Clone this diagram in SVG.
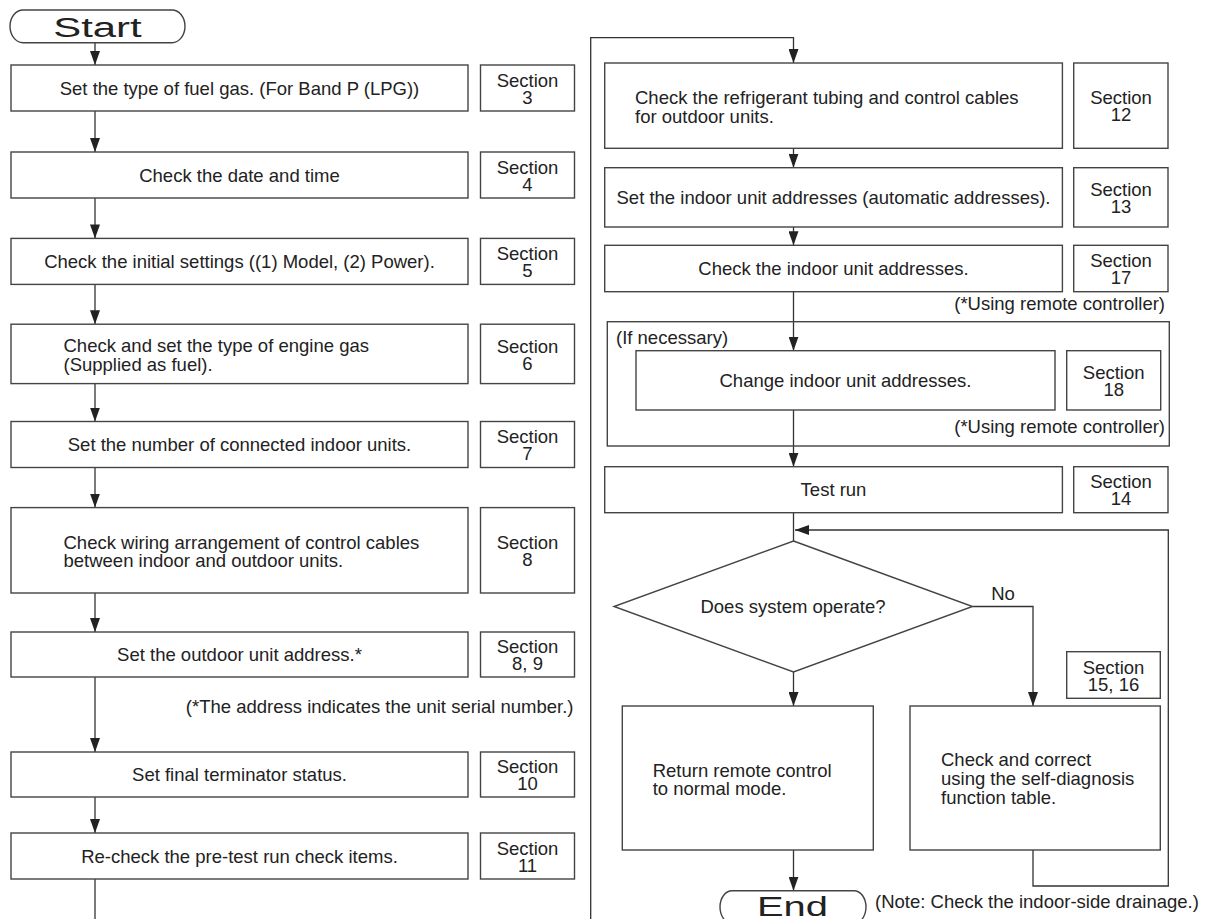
<svg xmlns="http://www.w3.org/2000/svg" width="1205" height="919" viewBox="0 0 1205 919">
<defs>
<marker id="ah" viewBox="0 0 14 10" refX="14" refY="5" markerWidth="14" markerHeight="10" markerUnits="userSpaceOnUse" orient="auto"><path d="M0,0 L14,5 L0,10 z" fill="#222"/></marker>
<style>
.b{fill:#fff;stroke:#444;stroke-width:1.4}
.g{fill:none;stroke:#444;stroke-width:1.4}
.c{fill:none;stroke:#333;stroke-width:1.3}
.a{marker-end:url(#ah)}
text{font-family:"Liberation Sans",Arial,sans-serif;font-size:18.5px;fill:#222}
.m{text-anchor:middle}
.e{text-anchor:end}
.t{font-size:27px}
</style>
</defs>
<rect width="1205" height="919" fill="#fff"/>
<g id="connectors">
<path class="c a" d="M95,42.7 V65"/>
<path class="c a" d="M95,111 V152"/>
<path class="c a" d="M95,198 V238.4"/>
<path class="c a" d="M95,284.4 V324.2"/>
<path class="c a" d="M95,383.6 V421.5"/>
<path class="c a" d="M95,467.5 V507.6"/>
<path class="c a" d="M95,593 V632"/>
<path class="c a" d="M95,677 V752"/>
<path class="c a" d="M95,797 V833"/>
<path class="c" d="M95,879 V919"/>
<path class="c a" d="M590.7,919 V37.7 H793.5 V63"/>
<path class="c a" d="M793.5,148.3 V167.7"/>
<path class="c a" d="M793.5,227 V245.3"/>
<path class="c a" d="M793.5,291.7 V350.7"/>
<path class="c a" d="M793.5,410 V466.7"/>
<path class="c" d="M793.5,512.7 V541"/>
<path class="c a" d="M1033,850 V886 H1168.3 V530 H795"/>
<path class="c a" d="M972.5,606.5 H1033 V706"/>
<path class="c a" d="M793.5,672 V706"/>
<path class="c a" d="M793.5,850 V890.7"/>
</g>
<g id="start"><path class="b" d="M23,10 H172 A13,16.35 0 0 1 172,42.7 H23 A13,16.35 0 0 1 23,10 Z"/><text class="t" x="53.3" y="37.3" textLength="88.4" lengthAdjust="spacingAndGlyphs">Start</text></g>
<g id="n1"><rect class="b" x="11" y="65" width="457" height="46"/><text class="m" x="239.5" y="94.6">Set the type of fuel gas. (For Band P (LPG))</text></g>
<g id="s3"><rect class="b" x="480.5" y="65" width="94" height="46"/><text class="m" x="527.5" y="86.6">Section</text><text class="m" x="527.5" y="103.6">3</text></g>
<g id="n2"><rect class="b" x="11" y="152" width="457" height="46"/><text class="m" x="239.5" y="181.6">Check the date and time</text></g>
<g id="s4"><rect class="b" x="480.5" y="152" width="94" height="46"/><text class="m" x="527.5" y="173.6">Section</text><text class="m" x="527.5" y="190.6">4</text></g>
<g id="n3"><rect class="b" x="11" y="238.4" width="457" height="46"/><text class="m" x="239.5" y="268">Check the initial settings ((1) Model, (2) Power).</text></g>
<g id="s5"><rect class="b" x="480.5" y="238.4" width="94" height="46"/><text class="m" x="527.5" y="260">Section</text><text class="m" x="527.5" y="277">5</text></g>
<g id="n4"><rect class="b" x="11" y="324.2" width="457" height="59.4"/><text x="63.5" y="352.4">Check and set the type of engine gas</text><text x="63.5" y="370.9">(Supplied as fuel).</text></g>
<g id="s6"><rect class="b" x="480.5" y="324.2" width="94" height="59.4"/><text class="m" x="527.5" y="352.5">Section</text><text class="m" x="527.5" y="369.5">6</text></g>
<g id="n5"><rect class="b" x="11" y="421.5" width="457" height="46"/><text class="m" x="239.5" y="451.1">Set the number of connected indoor units.</text></g>
<g id="s7"><rect class="b" x="480.5" y="421.5" width="94" height="46"/><text class="m" x="527.5" y="443.1">Section</text><text class="m" x="527.5" y="460.1">7</text></g>
<g id="n6"><rect class="b" x="11" y="507.6" width="457" height="85.4"/><text x="63.5" y="548.8">Check wiring arrangement of control cables</text><text x="63.5" y="567.3">between indoor and outdoor units.</text></g>
<g id="s8"><rect class="b" x="480.5" y="507.6" width="94" height="85.4"/><text class="m" x="527.5" y="548.9">Section</text><text class="m" x="527.5" y="565.9">8</text></g>
<g id="n7"><rect class="b" x="11" y="632" width="457" height="45"/><text class="m" x="239.5" y="661.1">Set the outdoor unit address.*</text></g>
<g id="s89"><rect class="b" x="480.5" y="632" width="94" height="45"/><text class="m" x="527.5" y="653.1">Section</text><text class="m" x="527.5" y="670.1">8, 9</text></g>
<g id="note1"><text class="e" x="573.5" y="713">(*The address indicates the unit serial number.)</text></g>
<g id="n8"><rect class="b" x="11" y="752" width="457" height="45"/><text class="m" x="239.5" y="781.1">Set final terminator status.</text></g>
<g id="s10"><rect class="b" x="480.5" y="752" width="94" height="45"/><text class="m" x="527.5" y="773.1">Section</text><text class="m" x="527.5" y="790.1">10</text></g>
<g id="n9"><rect class="b" x="11" y="833" width="457" height="46"/><text class="m" x="239.5" y="862.6">Re-check the pre-test run check items.</text></g>
<g id="s11"><rect class="b" x="480.5" y="833" width="94" height="46"/><text class="m" x="527.5" y="854.6">Section</text><text class="m" x="527.5" y="871.6">11</text></g>
<g id="r1"><rect class="b" x="604.7" y="63" width="457.7" height="85.3"/><text x="635" y="104.2">Check the refrigerant tubing and control cables</text><text x="635" y="122.7">for outdoor units.</text></g>
<g id="s12"><rect class="b" x="1073.7" y="63" width="94.3" height="85.3"/><text class="m" x="1121" y="104.3">Section</text><text class="m" x="1121" y="121.3">12</text></g>
<g id="r2"><rect class="b" x="604.7" y="167.7" width="457.7" height="59.3"/><text class="m" x="833.5" y="204">Set the indoor unit addresses (automatic addresses).</text></g>
<g id="s13"><rect class="b" x="1073.7" y="167.7" width="94.3" height="59.3"/><text class="m" x="1121" y="196">Section</text><text class="m" x="1121" y="213">13</text></g>
<g id="r3"><rect class="b" x="604.7" y="245.3" width="457.7" height="46.4"/><text class="m" x="833.5" y="275.1">Check the indoor unit addresses.</text></g>
<g id="s17"><rect class="b" x="1073.7" y="245.3" width="94.3" height="46.4"/><text class="m" x="1121" y="267.1">Section</text><text class="m" x="1121" y="284.1">17</text></g>
<g id="note2"><text class="e" x="1165" y="310">(*Using remote controller)</text></g>
<g id="group"><rect class="g" x="607.3" y="321.7" width="562" height="124.3"/><text x="616" y="344">(If necessary)</text><text class="e" x="1165" y="433">(*Using remote controller)</text></g>
<g id="r4"><rect class="b" x="636" y="350.7" width="419" height="59.3"/><text class="m" x="845.5" y="387">Change indoor unit addresses.</text></g>
<g id="s18"><rect class="b" x="1066.7" y="350.7" width="94" height="59.3"/><text class="m" x="1113.7" y="379">Section</text><text class="m" x="1113.7" y="396">18</text></g>
<g id="r5"><rect class="b" x="604.7" y="466.7" width="457.7" height="46"/><text class="m" x="833.5" y="496.3">Test run</text></g>
<g id="s14"><rect class="b" x="1073.7" y="466.7" width="94.3" height="46"/><text class="m" x="1121" y="488.3">Section</text><text class="m" x="1121" y="505.3">14</text></g>
<g id="decision"><polygon class="b" points="793.5,541 972.5,606.5 793.5,672 614,606.5"/><text class="m" x="793" y="613">Does system operate?</text></g>
<g id="no-label"><text class="m" x="1003" y="599.5">No</text></g>
<g id="s1516"><rect class="b" x="1066.7" y="651.7" width="93.6" height="46.6"/><text class="m" x="1113.5" y="673.6">Section</text><text class="m" x="1113.5" y="690.6">15, 16</text></g>
<g id="r6"><rect class="b" x="622.3" y="706" width="251" height="144"/><text x="652.7" y="777.3">Return remote control</text><text x="652.7" y="795">to normal mode.</text></g>
<g id="r7"><rect class="b" x="910" y="706" width="250.3" height="144"/><text x="941" y="766.3">Check and correct</text><text x="941" y="785.3">using the self-diagnosis</text><text x="941" y="804.3">function table.</text></g>
<g id="end"><path class="b" d="M732,890.7 H854 A12,16.35 0 0 1 854,923.4 H732 A12,16.35 0 0 1 732,890.7 Z"/><text class="t" x="757" y="915.5" textLength="71" lengthAdjust="spacingAndGlyphs">End</text></g>
<g id="note3"><text x="875" y="908.3">(Note: Check the indoor-side drainage.)</text></g>
</svg>
